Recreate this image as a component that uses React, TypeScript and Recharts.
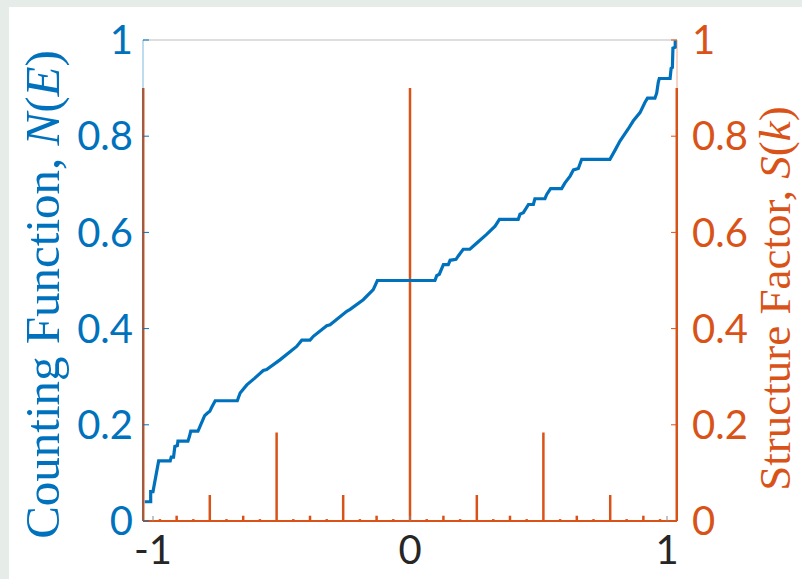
import React from "react";
import {
  ComposedChart,
  Line,
  Scatter,
  XAxis,
  YAxis,
  ReferenceLine,
  Label,
} from "recharts";

// counting function N(E)
const energy = [
  -1.032, -1.009, -1.009, -1.0, -0.978, -0.933, -0.929, -0.92, -0.915, -0.905,
  -0.903, -0.864, -0.858, -0.853, -0.825, -0.812, -0.799, -0.789, -0.779, -0.773,
  -0.758, -0.672, -0.661, -0.635, -0.604, -0.571, -0.558, -0.506, -0.441, -0.421,
  -0.389, -0.376, -0.324, -0.311, -0.246, -0.233, -0.182, -0.143, -0.127, 0.097,
  0.104, 0.114, 0.13, 0.149, 0.156, 0.179, 0.188, 0.207, 0.233, 0.26,
  0.298, 0.331, 0.348, 0.421, 0.428, 0.441, 0.461, 0.48, 0.486, 0.525,
  0.532, 0.547, 0.59, 0.603, 0.623, 0.636, 0.655, 0.668, 0.778, 0.798,
  0.817, 0.849, 0.869, 0.895, 0.914, 0.924, 0.953, 0.96, 0.966, 0.97,
  1.012, 1.016, 1.021, 1.023, 1.032, 1.032,
];
const counting = [
  0.04, 0.04, 0.061, 0.061, 0.125, 0.125, 0.133, 0.133, 0.155, 0.157,
  0.166, 0.166, 0.176, 0.187, 0.187, 0.203, 0.219, 0.224, 0.228, 0.235,
  0.25, 0.25, 0.266, 0.283, 0.297, 0.313, 0.315, 0.335, 0.363, 0.376,
  0.376, 0.384, 0.406, 0.408, 0.436, 0.44, 0.46, 0.481, 0.5, 0.5,
  0.51, 0.513, 0.533, 0.533, 0.542, 0.544, 0.551, 0.565, 0.565, 0.578,
  0.596, 0.613, 0.627, 0.627, 0.638, 0.641, 0.658, 0.658, 0.67, 0.67,
  0.679, 0.691, 0.691, 0.703, 0.717, 0.73, 0.733, 0.752, 0.752, 0.771,
  0.79, 0.815, 0.832, 0.849, 0.87, 0.879, 0.879, 0.89, 0.912, 0.92,
  0.92, 0.941, 0.943, 0.983, 0.985, 1.0,
];

// structure factor S(k) stems
const stemK = [
  -1.038, -0.973, -0.908, -0.843, -0.779, -0.714, -0.649, -0.584, -0.519,
  -0.454, -0.389, -0.324, -0.26, -0.195, -0.13, -0.065, 0,
  0.065, 0.13, 0.195, 0.26, 0.324, 0.389, 0.454, 0.519,
  0.584, 0.649, 0.714, 0.779, 0.843, 0.908, 0.973, 1.038,
];
const stemS = [
  0.9, 0.004, 0.011, 0.004, 0.054, 0.004, 0.011, 0.004, 0.184,
  0.004, 0.011, 0.004, 0.054, 0.004, 0.011, 0.004, 0.9,
  0.004, 0.011, 0.004, 0.054, 0.004, 0.011, 0.004, 0.184,
  0.004, 0.011, 0.004, 0.054, 0.004, 0.011, 0.004, 0.9,
];

const xTicks = [-1, 0, 1];
const yTicks = [0, 0.2, 0.4, 0.6, 0.8, 1];

const BLUE = "#0072BD";
const ORANGE = "#D95319";

const curve = energy.map((e, i) => ({ E: e, N: counting[i] }));
const stems = stemK.map((k, i) => ({ E: k, S: stemS[i] }));

const sideLabel =
  (parts: { t: string; i?: boolean }[], cx: number, shift: number, size: number, color: string) =>
  (props: any) => {
    const vb = props.viewBox;
    const cy = vb.y + vb.height / 2 + shift;
    return (
      <text
        x={cx}
        y={cy}
        transform={`rotate(-90 ${cx} ${cy})`}
        textAnchor="middle"
        dominantBaseline="central"
        fill={color}
        fontSize={size}
        fontFamily="'Liberation Serif', serif"
      >
        {parts.map((p, k) => (
          <tspan key={k} fontStyle={p.i ? "italic" : "normal"}>
            {p.t}
          </tspan>
        ))}
      </text>
    );
  };

export default function App() {
  return (
    <div
      style={{
        position: "absolute",
        left: 0,
        top: 0,
        width: 802,
        height: 579,
        background: "#e6ece8",
      }}
    >
      <div
        style={{
          position: "absolute",
          left: 9,
          top: 7,
          right: 0,
          bottom: 0,
          background: "#ffffff",
        }}
      />
      <div style={{ position: "absolute", left: 0, top: 0 }}>
        <ComposedChart
          width={802}
          height={579}
          margin={{ top: 39, right: 0, bottom: 0, left: 0 }}
        >
          <XAxis
            xAxisId="b"
            dataKey="E"
            type="number"
            domain={[-1.0389, 1.0389]}
            ticks={xTicks}
            allowDataOverflow
            height={58}
            axisLine={{ stroke: ORANGE, strokeWidth: 2 }}
            tickLine={{ stroke: "#888888" }}
            tickSize={-5}
            tickMargin={20}
            tick={{ fill: "#262626", fontSize: 40, fontFamily: "Lato" }}
          />
          <XAxis
            xAxisId="t"
            orientation="top"
            dataKey="E"
            type="number"
            domain={[-1.0389, 1.0389]}
            ticks={xTicks}
            allowDataOverflow
            height={1}
            axisLine={{ stroke: "#bdbdbd" }}
            tickLine={{ stroke: "#888888" }}
            tickSize={-5}
            tick={false}
          />
          <YAxis
            yAxisId="N"
            orientation="left"
            type="number"
            domain={[0, 1]}
            ticks={yTicks}
            allowDataOverflow
            width={143}
            axisLine={{ stroke: BLUE, strokeOpacity: 0.5 }}
            tickLine={{ stroke: BLUE }}
            tickSize={-6}
            tickMargin={16}
            tick={{ fill: BLUE, fontSize: 40, fontFamily: "Lato" }}
          >
            <Label
              content={sideLabel(
                [
                  { t: "Counting Function, " },
                  { t: "N", i: true },
                  { t: "(" },
                  { t: "E", i: true },
                  { t: ")" },
                ],
                42,
                14,
                49,
                BLUE
              )}
            />
          </YAxis>
          <YAxis
            yAxisId="S"
            orientation="right"
            type="number"
            domain={[0, 1]}
            ticks={yTicks}
            allowDataOverflow
            width={125}
            axisLine={{ stroke: ORANGE, strokeOpacity: 0.5 }}
            tickLine={{ stroke: ORANGE }}
            tickSize={-6}
            tickMargin={21}
            tick={{ fill: ORANGE, fontSize: 40, fontFamily: "Lato" }}
          >
            <Label
              content={sideLabel(
                [
                  { t: "Structure Factor, " },
                  { t: "S", i: true },
                  { t: "(" },
                  { t: "k", i: true },
                  { t: ")" },
                ],
                775,
                18,
                45,
                ORANGE
              )}
            />
          </YAxis>
          <Scatter
            xAxisId="b"
            yAxisId="S"
            data={stems}
            dataKey="S"
            shape={() => <g />}
            isAnimationActive={false}
          />
          <ReferenceLine
            xAxisId="b"
            yAxisId="S"
            y={0}
            stroke={ORANGE}
            strokeWidth={2}
          />
          {stems.map((d, i) => (
            <ReferenceLine
              key={i}
              xAxisId="b"
              yAxisId="S"
              segment={[
                { x: d.E, y: 0 },
                { x: d.E, y: d.S },
              ]}
              stroke={ORANGE}
              strokeWidth={2.5}
              ifOverflow="visible"
            />
          ))}
          <Line
            xAxisId="b"
            yAxisId="N"
            data={curve}
            dataKey="N"
            type="linear"
            stroke={BLUE}
            strokeWidth={3.2}
            dot={false}
            isAnimationActive={false}
          />
        </ComposedChart>
      </div>
    </div>
  );
}
